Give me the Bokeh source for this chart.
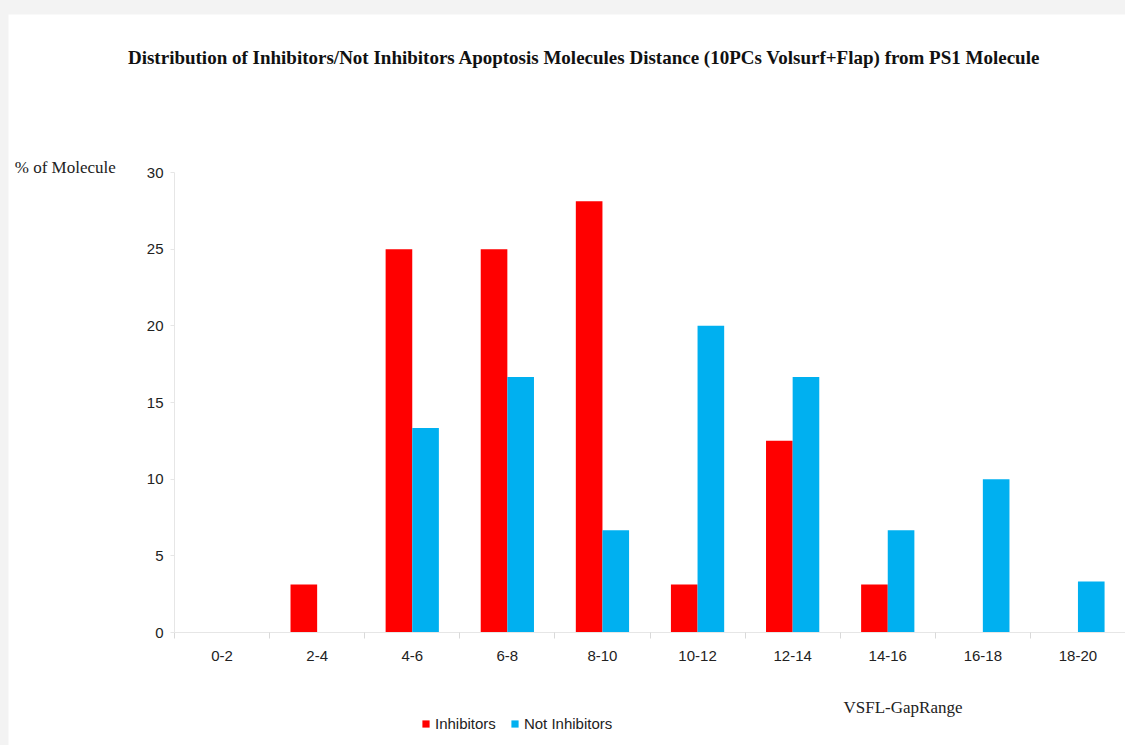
from bokeh.plotting import figure
from bokeh.models import (ColumnDataSource, Range1d, FixedTicker, Label, Legend,
                          LegendItem, Spacer, LinearAxis)
from bokeh.layouts import column, row
from bokeh.transform import dodge
from bokeh.embed import file_html
from bokeh.resources import INLINE

# Distance bins (VSFL gap range) and percentage of molecules per bin
categories = ["0-2", "2-4", "4-6", "6-8", "8-10", "10-12", "12-14", "14-16", "16-18", "18-20"]
inhibitors = [0, 3.125, 25, 25, 28.125, 3.125, 12.5, 3.125, 0, 0]
not_inhibitors = [0, 0, 13.33, 16.67, 6.67, 20, 16.67, 6.67, 10, 3.33]
y_ticks = [0, 5, 10, 15, 20, 25, 30]

RED = "#ff0000"
BLUE = "#00b0f0"
SERIF = "Liberation Serif"
SANS = "Liberation Sans"

# canvas geometry: the data area spans the whole canvas, axes sit at fixed spots
W, H = 1117, 731
plot_left, plot_right = 166, 1117      # pixel extent of the bins
plot_top, plot_bottom = 158, 618       # pixel extent of 30 .. 0
n = len(categories)
ux = (plot_right - plot_left) / n
uy = (plot_bottom - plot_top) / 30.0
x_lo = -0.5 - plot_left / ux
x_hi = -0.5 + (W - plot_left) / ux
y_lo = -(H - plot_bottom) / uy
y_hi = plot_bottom / uy

idx = list(range(n))
source = ColumnDataSource(data=dict(x=idx, cat=categories,
                                    inh=inhibitors, notinh=not_inhibitors))

p = figure(width=W, height=H, output_backend="svg", toolbar_location=None,
           x_range=Range1d(x_lo, x_hi), y_range=Range1d(y_lo, y_hi),
           x_axis_type=None, y_axis_type=None,
           min_border=0, min_border_left=0, min_border_right=0,
           min_border_top=0, min_border_bottom=0)
p.outline_line_color = None
p.background_fill_color = "white"
p.border_fill_color = "white"
p.grid.visible = False

bar_w = 0.28
r_inh = p.vbar(x=dodge("x", -bar_w / 2), top="inh", width=bar_w, source=source,
               fill_color=RED, line_color=None)
r_not = p.vbar(x=dodge("x", bar_w / 2), top="notinh", width=bar_w, source=source,
               fill_color=BLUE, line_color=None)

# x axis: labels centred on bins, tick marks on bin boundaries
xa = LinearAxis(fixed_location=0, bounds=(-0.5, n - 0.5))
xa.ticker = FixedTicker(ticks=idx, minor_ticks=[i - 0.5 for i in range(n + 1)])
xa.major_label_overrides = {i: c for i, c in zip(idx, categories)}
xa.major_tick_out = 0
xa.major_tick_in = 0
xa.minor_tick_out = 6
xa.minor_tick_in = 0
xa.minor_tick_line_color = "#d9d9d9"
xa.axis_line_color = "#e6e6e6"
xa.major_label_text_font = SANS
xa.major_label_text_font_size = "15px"
xa.major_label_text_color = "#222222"
xa.major_label_standoff = 12
p.add_layout(xa, "below")

ya = LinearAxis(fixed_location=-0.5, bounds=(0, 30))
ya.ticker = FixedTicker(ticks=y_ticks)
ya.axis_line_color = "#e6e6e6"
ya.major_tick_line_color = "#e6e6e6"
ya.major_tick_out = 4
ya.major_tick_in = 0
ya.minor_tick_line_color = None
ya.major_label_text_font = SANS
ya.major_label_text_font_size = "15px"
ya.major_label_text_color = "#222222"
ya.major_label_standoff = 7
p.add_layout(ya, "left")

p.add_layout(Label(x=3.86, y=37.5,
                   text="Distribution of  Inhibitors/Not Inhibitors Apoptosis Molecules Distance (10PCs Volsurf+Flap)  from PS1 Molecule",
                   text_font=SERIF, text_font_style="bold", text_font_size="19px",
                   text_align="center", text_baseline="middle", text_color="#111111"))
p.add_layout(Label(x=-2.18, y=30.33, text="% of Molecule", text_font=SERIF,
                   text_font_size="17px", text_align="left", text_baseline="middle",
                   text_color="#222222"))
p.add_layout(Label(x=6.535, y=-4.89, text="VSFL-GapRange", text_font=SERIF,
                   text_font_size="17px", text_align="left", text_baseline="middle",
                   text_color="#222222"))

legend = Legend(items=[LegendItem(label="Inhibitors", renderers=[r_inh]),
                       LegendItem(label="Not Inhibitors", renderers=[r_not])],
                orientation="horizontal", location=(413, 13),
                glyph_width=9, glyph_height=9, label_standoff=5, spacing=14,
                padding=0, margin=0, border_line_color=None,
                background_fill_alpha=0, label_text_font=SANS,
                label_text_font_size="15px", label_text_color="#222222",
                label_height=15)
p.add_layout(legend, "center")

page = column(Spacer(height=14, width=1125),
              row(Spacer(width=8, height=H), p),
              styles={"background-color": "#f3f3f3"}, spacing=0)

open("out.html", "w").write(file_html(page, INLINE))
